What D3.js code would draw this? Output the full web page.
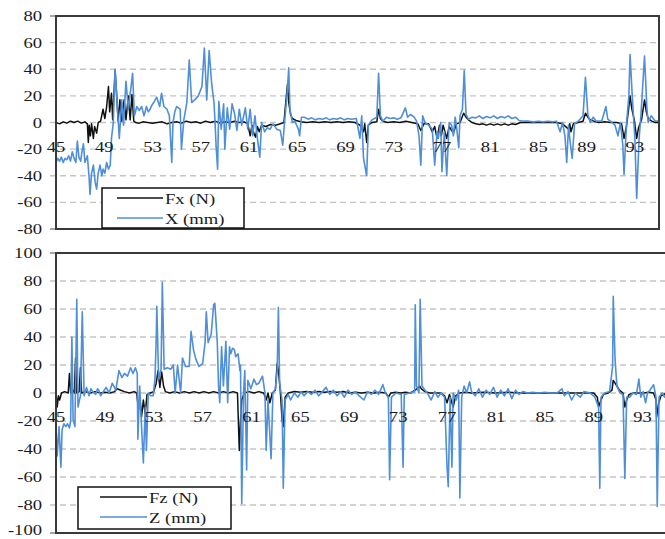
<!DOCTYPE html>
<html><head><meta charset="utf-8">
<script src="https://cdn.jsdelivr.net/npm/d3@7"></script>
<style>body{margin:0;background:#fff}svg{display:block}</style>
</head><body>
<svg id="c" width="665" height="539"></svg>
<script>
const xTickValues = [45,49,53,57,61,65,69,73,77,81,85,89,93];
const topYTicks = [-80,-60,-40,-20,0,20,40,60,80];
const botYTicks = [-100,-80,-60,-40,-20,0,20,40,60,80,100];
const topLegend = ["Fx (N)", "X (mm)"];
const botLegend = ["Fz (N)", "Z (mm)"];

const fxData = [[45.0,0],[45.3,-1],[45.6,0.5],[45.9,-0.5],[46.2,1],[46.5,0],[46.8,1],[47.1,-0.5],[47.4,0.5],[47.6,-1],[47.68,-15],[47.75,-2],[47.85,-10],[47.95,-1],[48.1,-12],[48.2,-3],[48.37,-8],[48.5,0],[48.7,1],[48.9,10],[49.05,3],[49.2,12],[49.35,27],[49.45,8],[49.6,22],[49.7,2],[49.9,39],[50.05,18],[50.15,1],[50.3,17],[50.45,1],[50.65,17],[50.8,2],[51.0,20],[51.15,2],[51.3,21],[51.45,1],[51.6,0],[51.9,-0.5],[52.2,0.5],[52.6,0],[53.0,-0.5],[53.4,0],[53.8,0.5],[54.2,-1],[54.6,0],[55.0,0.5],[55.4,-0.5],[55.8,1],[56.2,0],[56.6,0.5],[57.0,-0.5],[57.4,1],[57.8,0],[58.2,1],[58.6,-0.5],[59.0,0.5],[59.4,0],[59.8,1],[60.2,0],[60.6,0.5],[60.9,-1],[61.1,-10],[61.25,-2],[61.4,-8],[61.55,-11],[61.7,-3],[61.85,-7],[62.05,-2],[62.4,-3],[62.8,-1.5],[63.2,-2],[63.6,-1],[63.9,0],[64.05,15],[64.2,29],[64.3,15],[64.45,6],[64.6,3],[64.9,1.5],[65.3,0.5],[65.8,0],[66.3,0.5],[66.8,0],[67.3,0.5],[67.8,0],[68.3,0.5],[68.8,0],[69.3,0.5],[69.8,0],[70.2,-2],[70.5,-7],[70.6,-1],[70.76,-15],[70.9,-2],[71.2,0],[71.6,0.5],[71.75,10],[71.9,3],[72.1,1],[72.5,0],[73.0,0.5],[73.5,0],[74.0,1],[74.5,0],[75.0,-1],[75.25,-6],[75.5,-1],[75.9,-1],[76.2,-7],[76.4,-3],[76.6,-12],[76.8,-2],[76.95,-10],[77.1,-2],[77.4,-12],[77.6,-3],[77.95,-8],[78.2,-1],[78.5,0],[78.8,7],[79.0,4],[79.2,2],[79.5,0],[79.8,-1],[80.1,-1.5],[80.4,-1],[80.7,-2],[81.0,-1],[81.3,-2],[81.6,-1],[81.9,-2],[82.2,-1],[82.5,-2],[82.8,-1],[83.1,-1.5],[83.5,0],[84.0,0],[84.5,0],[85.0,0],[85.5,0],[86.0,0],[86.5,0],[87.0,-1],[87.5,-5],[87.6,-1],[87.7,-7],[87.9,-1],[88.3,0],[88.7,1],[88.9,7],[89.1,4],[89.3,2],[89.6,1],[90.0,0],[90.5,0.5],[91.0,0],[91.5,0],[91.9,-1],[92.1,-12],[92.3,-3],[92.45,8],[92.6,20],[92.75,10],[92.95,2],[93.15,-12],[93.3,-4],[93.55,2],[93.8,17],[93.95,8],[94.1,3],[94.4,1],[94.7,0],[95.0,0]];

const xData = [[45.0,-30],[45.15,-27],[45.3,-29],[45.45,-26],[45.6,-30],[45.75,-27],[45.9,-28],[46.05,-25],[46.2,-29],[46.35,-22],[46.5,-27],[46.65,-30],[46.77,-14],[46.9,-26],[47.05,-29],[47.15,-22],[47.27,-16],[47.4,-30],[47.6,-25],[47.75,-42],[47.82,-54],[47.95,-38],[48.1,-32],[48.25,-45],[48.37,-50],[48.5,-38],[48.65,-32],[48.8,-40],[48.9,-35],[49.05,-38],[49.2,-30],[49.35,-35],[49.5,-32],[49.6,-12],[49.75,0],[49.9,40],[50.0,25],[50.1,10],[50.25,-12],[50.45,17],[50.6,-2],[50.8,31],[51.0,10],[51.2,25],[51.35,37],[51.5,5],[51.7,12],[51.9,9],[52.1,12],[52.3,5],[52.5,12],[52.65,8],[52.8,10],[52.95,13],[53.1,15],[53.35,19],[53.6,12],[53.75,22],[53.95,12],[54.2,10],[54.4,5],[54.6,-30],[54.7,0],[54.85,8],[55.0,12],[55.3,10],[55.4,-20],[55.6,2],[55.85,15],[56.05,47],[56.25,15],[56.5,17],[56.8,20],[57.1,27],[57.3,56],[57.5,17],[57.7,54],[57.9,30],[58.1,15],[58.2,-2],[58.27,-17],[58.4,-35],[58.5,16],[58.7,-5],[58.9,14],[59.0,-20],[59.2,11],[59.4,-5],[59.6,14],[59.8,7],[60.0,-6],[60.2,10],[60.4,-2],[60.7,11],[60.9,-5],[61.1,10],[61.3,-10],[61.5,5],[61.7,-12],[61.9,-26],[62.05,0],[62.3,-7],[62.5,-4],[62.75,-5],[63.0,-1],[63.3,-5],[63.6,-6],[63.8,-17],[63.95,0],[64.15,20],[64.3,41],[64.4,10],[64.6,0],[64.8,1],[65.1,-5],[65.2,-10],[65.35,4],[65.6,4],[65.9,2.5],[66.2,3.5],[66.5,2],[66.8,3],[67.1,2.5],[67.4,3.5],[67.7,2],[68.0,3],[68.3,2.5],[68.6,3.5],[68.9,2],[69.2,3],[69.5,2.5],[69.9,3],[70.2,-12],[70.35,5],[70.5,-27],[70.76,-40],[70.9,-2],[71.2,2],[71.6,4],[71.75,37],[71.9,5],[72.1,1],[72.4,4],[72.7,3],[73.0,3.5],[73.3,2.5],[73.6,3.5],[73.97,11],[74.15,4],[74.4,6],[74.7,4],[74.9,1],[75.1,-10],[75.25,-32],[75.4,5],[75.6,0],[75.9,-2],[76.2,-5],[76.4,-32],[76.6,-7],[76.7,-12],[76.9,0],[77.0,-37],[77.2,-7],[77.4,-40],[77.6,0],[77.8,-2],[77.95,-10],[78.1,4],[78.2,-2],[78.4,-19],[78.5,5],[78.7,10],[78.85,39],[79.0,6],[79.2,2.5],[79.5,4],[79.8,3.5],[80.1,5],[80.4,3],[80.7,4.5],[81.0,3.5],[81.3,5],[81.6,3],[81.9,4.5],[82.2,3.5],[82.5,5],[82.8,3],[83.1,4],[83.4,1.5],[83.8,1],[84.2,1],[84.6,0.5],[85.0,1],[85.4,0.5],[85.8,1],[86.2,0.5],[86.5,1],[86.8,-7],[87.0,0],[87.2,-10],[87.35,-30],[87.5,-2],[87.6,-12],[87.8,-27],[88.0,-1],[88.3,1],[88.7,5],[88.9,34],[89.1,6],[89.3,0],[89.55,4],[89.8,1],[90.25,1],[90.6,12],[90.75,2.5],[91.1,0],[91.35,-2],[91.6,-10],[91.8,0],[92.0,-17],[92.1,-39],[92.3,-2],[92.5,20],[92.6,51],[92.8,17],[93.0,-12],[93.15,-57],[93.35,-12],[93.5,5],[93.6,20],[93.8,50],[94.0,10],[94.1,0],[94.35,5],[94.7,1],[94.95,1]];

const fzData = [[45.0,0],[45.1,-10],[45.2,-2],[45.3,-5],[45.45,0],[45.7,1],[46.0,0],[46.1,14],[46.2,0],[46.4,2],[46.5,0],[46.6,25],[46.7,0],[46.9,1],[47.0,18],[47.1,0],[47.4,1],[47.8,0],[48.2,1],[48.6,0],[49.0,0.5],[49.4,0],[49.8,1],[50.0,3],[50.3,2],[50.6,1],[51.0,0],[51.4,1],[51.6,0],[51.75,-12],[51.85,-2],[52.0,-17],[52.15,-5],[52.3,-15],[52.45,-1],[52.7,0],[53.0,1],[53.2,7],[53.35,16],[53.5,4],[53.65,15],[53.8,5],[53.95,1],[54.3,0],[54.7,1],[55.1,0],[55.5,1],[55.9,0],[56.3,1],[56.7,0],[57.1,1],[57.5,0],[57.9,1],[58.3,0],[58.7,1],[59.1,0],[59.5,1],[59.85,0],[60.0,-41],[60.1,-19],[60.2,-5],[60.4,0],[60.8,1],[61.2,0],[61.6,1],[62.0,0],[62.2,-5],[62.35,0],[62.5,-7],[62.7,0],[62.95,2],[63.1,21],[63.2,16],[63.35,2],[63.5,-19],[63.6,-24],[63.75,-3],[64.0,0],[64.5,1],[65.0,0.5],[65.5,1],[66.0,0.5],[66.5,1],[67.0,0.5],[67.5,1],[68.0,0.5],[68.5,1],[69.0,0],[69.5,0.5],[70.0,0],[70.5,0.5],[71.0,0],[71.5,0.5],[72.0,0],[72.2,-3],[72.4,0],[72.8,0.5],[73.2,0],[73.6,0.5],[74.0,0],[74.4,2],[74.75,5],[74.9,3],[75.2,1],[75.6,0],[76.0,0],[76.5,0],[76.8,-2],[77.0,-7],[77.2,-1],[77.5,-10],[77.7,-2],[78.0,0],[78.5,0.5],[79.0,0],[80.0,0.5],[81.0,0],[82.0,0.5],[83.0,0],[84.0,0],[85.0,0],[86.0,0],[87.0,0],[88.0,0],[89.0,0],[89.3,-3],[89.4,-10],[89.6,-5],[89.8,-1],[90.2,0],[90.5,2],[90.6,9],[90.75,7],[90.9,5],[91.1,2],[91.4,0],[91.55,-10],[91.7,-5],[91.9,-1],[92.3,0],[92.7,0],[93.1,0],[93.5,0.5],[93.9,0],[94.1,-5],[94.15,-17],[94.3,-8],[94.5,-2],[95.0,0]];

const zData = [[45.0,-24],[45.1,-45],[45.25,-24],[45.4,-53],[45.5,-26],[45.65,-22],[45.8,-24],[45.95,-22],[46.1,-25],[46.2,-20],[46.3,40],[46.4,-19],[46.55,-24],[46.7,67],[46.8,-10],[46.9,-6],[47.0,-2],[47.15,58],[47.3,-2],[47.5,4],[47.7,-2],[47.85,3],[48.0,1],[48.25,-1],[48.4,3],[48.5,2],[48.65,-2],[48.8,0],[49.1,4],[49.35,0],[49.6,7],[49.9,2],[50.15,16],[50.4,11],[50.6,14],[50.85,12],[51.1,18],[51.3,14],[51.5,18],[51.65,14],[51.7,-33],[51.85,5],[52.0,-24],[52.15,-50],[52.3,-10],[52.4,-41],[52.55,0],[52.75,-2],[52.95,-2],[53.1,10],[53.2,38],[53.25,62],[53.4,10],[53.6,17],[53.7,79],[53.85,17],[54.1,18],[54.4,17],[54.6,20],[54.75,0],[54.95,20],[55.2,0],[55.35,25],[55.6,19],[55.9,19],[56.05,44],[56.25,31],[56.45,24],[56.7,19],[57.0,21],[57.2,36],[57.3,58],[57.45,36],[57.7,42],[57.9,63],[58.0,64],[58.2,36],[58.3,5],[58.4,-7],[58.55,33],[58.7,5],[58.9,37],[59.05,-7],[59.2,33],[59.3,28],[59.45,32],[59.6,31],[59.7,26],[59.9,28],[60.05,16],[60.1,20],[60.2,-79],[60.35,1],[60.45,16],[60.6,-55],[60.7,9],[60.95,3],[61.2,10],[61.4,6],[61.6,7],[61.9,12],[62.1,0],[62.2,-41],[62.35,-5],[62.6,-47],[62.75,0],[62.95,3],[63.1,16],[63.2,61],[63.3,7],[63.5,-5],[63.6,-68],[63.75,-5],[64.0,-1],[64.2,-5],[64.5,0],[64.8,-3],[65.05,1],[65.3,-2],[65.6,1],[65.9,-1],[66.2,2],[66.5,-2],[66.8,1],[67.1,4],[67.4,-1],[67.7,2],[68.0,-2],[68.3,1],[68.6,-3],[68.9,2],[69.2,-1],[69.5,1],[69.8,-2],[70.2,-5],[70.5,1],[70.8,-1],[71.1,2],[71.4,-1],[71.75,6],[71.95,0],[72.2,-3],[72.3,-62],[72.45,-3],[72.85,0],[73.25,-1],[73.4,-53],[73.5,-1],[73.9,0],[74.35,1],[74.4,63],[74.5,5],[74.7,0],[74.8,67],[74.95,5],[75.2,2],[75.45,-1],[75.7,-5],[76.0,1],[76.25,-3],[76.5,0],[76.8,-3],[77.0,-53],[77.1,-67],[77.25,-3],[77.4,-53],[77.5,0],[77.75,-5],[77.95,2],[78.05,-75],[78.2,-3],[78.4,5],[78.6,0],[78.85,8],[79.0,1],[79.3,-2],[79.6,3],[79.9,-3],[80.2,2],[80.5,-1],[80.8,4],[81.1,-3],[81.4,2],[81.7,-2],[82.0,3],[82.3,-4],[82.6,2],[82.9,-1],[83.2,1],[83.6,0],[84.0,0.5],[84.5,0],[85.0,0.5],[85.5,0],[86.0,0],[86.4,3],[86.6,-2],[86.9,1],[87.2,-5],[87.5,0],[87.9,-3],[88.2,1],[88.7,0],[89.1,-3],[89.4,-10],[89.5,-68],[89.6,-3],[89.9,0],[90.3,1],[90.55,19],[90.6,69],[90.75,24],[90.9,5],[91.15,0],[91.4,-1],[91.55,-61],[91.7,-3],[91.95,-3],[92.2,0],[92.5,-1],[92.7,10],[92.85,-3],[93.05,1],[93.25,-7],[93.4,0],[93.6,2],[93.9,6],[94.1,-3],[94.2,-81],[94.35,-3],[94.6,0],[94.8,-3],[95.0,0]];

const svg = d3.select("#c");
const FONT = "'Liberation Serif', 'Times New Roman', serif";
const BLUE = "#4f8fd8";
const SX = 1.2;

function stretchedText(g, x, y, str, anchor, size) {
  g.append("text")
    .attr("transform", `translate(${x},${y}) scale(${SX},1)`)
    .attr("text-anchor", anchor)
    .attr("font-family", FONT)
    .attr("font-size", size)
    .attr("fill", "#1a1a1a")
    .text(str);
}

function panel(cfg) {
  const g = svg.append("g");
  const x = d3.scaleLinear().domain([45, 95]).range([cfg.left, cfg.right]);
  const y = d3.scaleLinear().domain(cfg.yDomain).range([cfg.bottom, cfg.top]);
  const id = "clip" + cfg.name;
  svg.append("clipPath").attr("id", id).append("rect")
    .attr("x", cfg.left).attr("y", cfg.top)
    .attr("width", cfg.right - cfg.left).attr("height", cfg.bottom - cfg.top);

  g.selectAll("line.grid").data(cfg.yTicks.filter(t => t !== cfg.yDomain[0] && t !== cfg.yDomain[1]))
    .join("line").attr("class", "grid")
    .attr("x1", cfg.left - 6).attr("x2", cfg.right)
    .attr("y1", d => y(d)).attr("y2", d => y(d))
    .attr("stroke", "#c4c4c4").attr("stroke-width", 1.4)
    .attr("stroke-dasharray", "6,4");
  g.selectAll("line.edge").data([cfg.yDomain[0], cfg.yDomain[1]])
    .join("line").attr("class", "edge")
    .attr("x1", cfg.left - 6).attr("x2", cfg.left)
    .attr("y1", d => y(d)).attr("y2", d => y(d))
    .attr("stroke", "#808080").attr("stroke-width", 1.4);

  cfg.yTicks.forEach(t => stretchedText(g, 42, Math.min(y(t) + 5, 535), String(t), "end", 15.5));

  const line = d3.line().x(d => x(d[0])).y(d => y(d[1]));
  const dg = g.append("g").attr("clip-path", `url(#${id})`);
  dg.append("path").datum(cfg.black).attr("d", line)
    .attr("fill", "none").attr("stroke", "#111").attr("stroke-width", 1.5).attr("stroke-linejoin", "round");
  dg.append("path").datum(cfg.blue).attr("d", line)
    .attr("fill", "none").attr("stroke", BLUE).attr("stroke-width", 1.6).attr("stroke-linejoin", "round");

  xTickValues.forEach(t => stretchedText(g, x(t), y(0) + 29, String(t), "middle", 15.5));

  g.append("rect").attr("x", cfg.left).attr("y", cfg.top)
    .attr("width", cfg.right - cfg.left).attr("height", cfg.bottom - cfg.top)
    .attr("fill", "none").attr("stroke", "#3a3a3a").attr("stroke-width", 2);

  const L = cfg.legend;
  g.append("rect").attr("x", L.x).attr("y", L.y).attr("width", L.w).attr("height", L.h)
    .attr("fill", "#fff").attr("stroke", "#111").attr("stroke-width", 1.5);
  [["#111", cfg.labels[0]], [BLUE, cfg.labels[1]]].forEach((s, i) => {
    const ly = L.y + 10 + i * 20;
    g.append("line").attr("x1", L.lx1).attr("x2", L.lx2).attr("y1", ly).attr("y2", ly)
      .attr("stroke", s[0]).attr("stroke-width", 1.6);
    stretchedText(g, L.lx2 + 2, ly + 6, s[1], "start", 15.5);
  });
}

panel({name: "top", left: 56, right: 659, top: 16, bottom: 229, yDomain: [-80, 80], yTicks: topYTicks,
  black: fxData, blue: xData, labels: topLegend,
  legend: {x: 102, y: 188, w: 142, h: 40, lx1: 117, lx2: 163}});
panel({name: "bot", left: 56, right: 667, top: 253, bottom: 533, yDomain: [-100, 100], yTicks: botYTicks,
  black: fzData, blue: zData, labels: botLegend,
  legend: {x: 78, y: 487, w: 153, h: 42, lx1: 100, lx2: 147}});
</script>
</body></html>
